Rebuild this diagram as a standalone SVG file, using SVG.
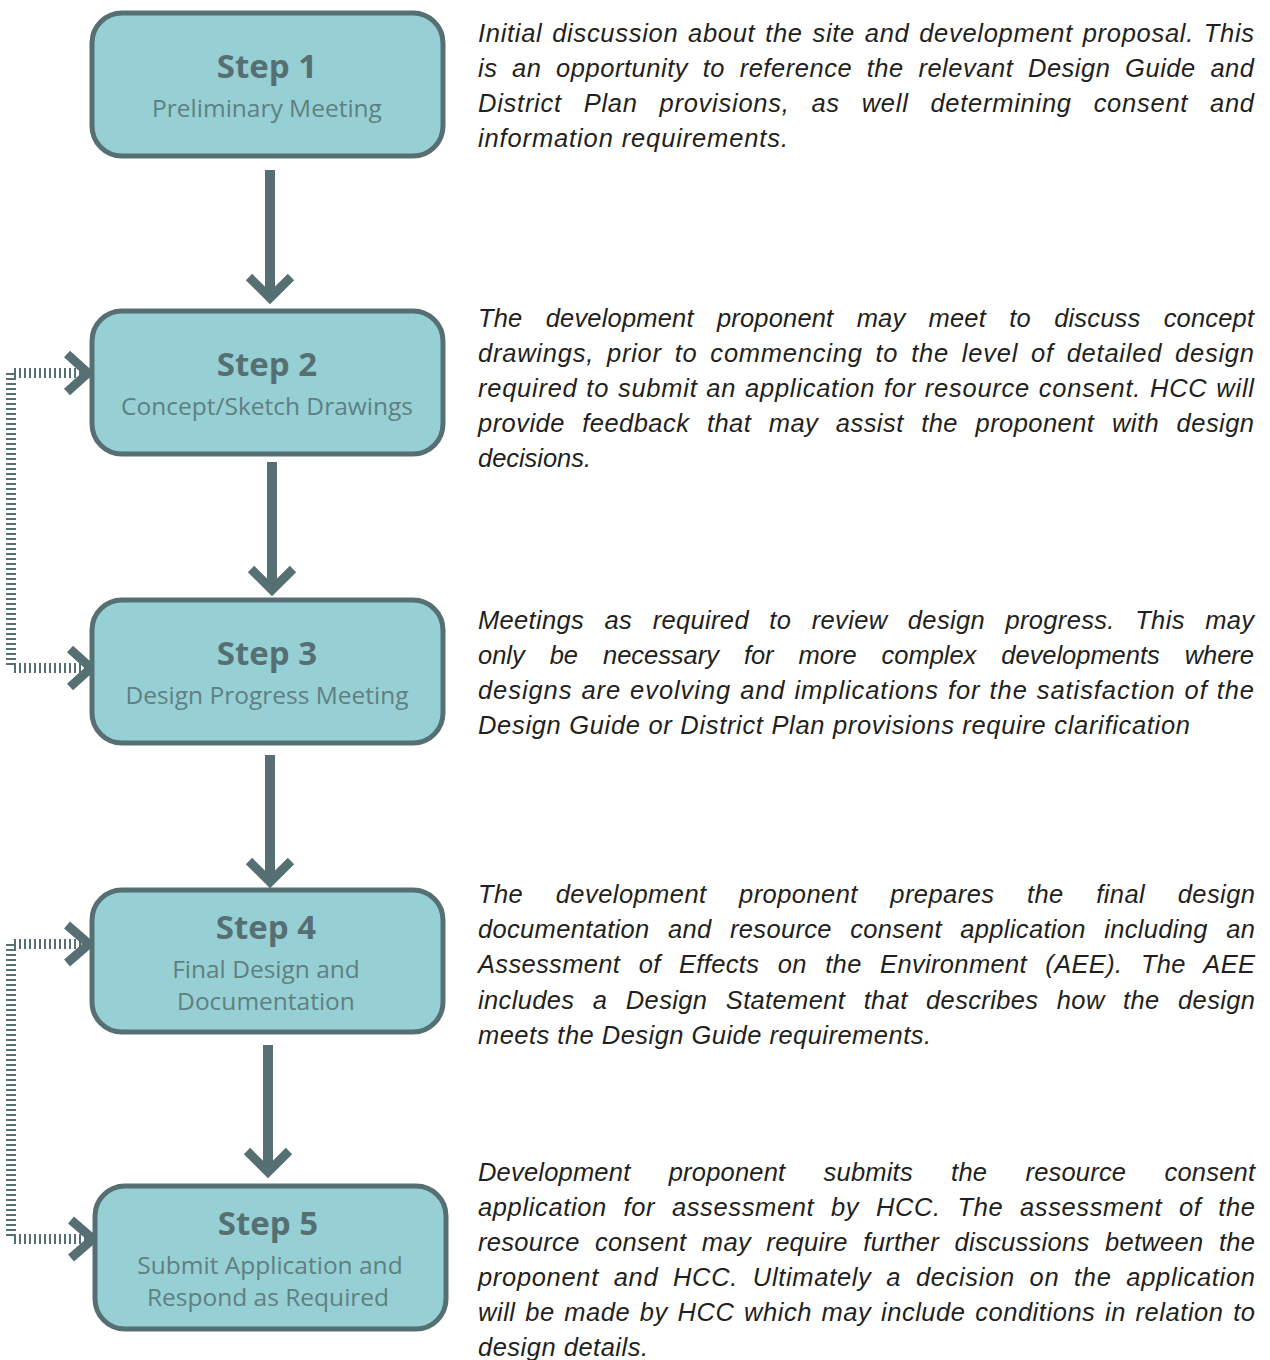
<svg xmlns="http://www.w3.org/2000/svg" width="1270" height="1360" viewBox="0 0 1270 1360">
<style>
.box{fill:#96d0d4;stroke:#566f72;stroke-width:5}
.title{font-family:"Open Sans","Noto Sans",sans-serif;font-weight:700;font-size:33px;fill:#566f72;text-anchor:middle}
.sub{font-family:"Open Sans","Noto Sans",sans-serif;font-size:24.5px;fill:#5f7f82;text-anchor:middle}
.desc{font-family:"Liberation Sans",Arial,sans-serif;font-style:italic;font-size:25.5px;fill:#231f20}
.shaft{stroke:#566f72;stroke-width:10;fill:none}
.head{stroke:#566f72;stroke-width:9;fill:none;stroke-linejoin:miter;stroke-linecap:butt}
.dot{stroke:#566f72;stroke-width:10;fill:none;stroke-dasharray:2 3}
</style>
<rect width="1270" height="1360" fill="#ffffff"/>
<g id="connectors">
  <line class="shaft" x1="270" y1="170" x2="270" y2="296"/>
  <polyline class="head" points="249,277 270,298 291,277"/>
  <line class="shaft" x1="272" y1="462" x2="272" y2="588"/>
  <polyline class="head" points="251,569 272,590 293,569"/>
  <line class="shaft" x1="270" y1="755" x2="270" y2="880"/>
  <polyline class="head" points="249,861 270,882 291,861"/>
  <line class="shaft" x1="268" y1="1045" x2="268" y2="1170"/>
  <polyline class="head" points="247,1151 268,1172 289,1151"/>
  <g id="loop1">
    <line class="dot" x1="11" y1="373" x2="11" y2="668"/>
    <line class="dot" x1="14" y1="373" x2="84" y2="373"/>
    <line class="dot" x1="14" y1="668" x2="86" y2="668"/>
    <polyline class="head" points="67,354 88,373 67,392"/>
    <polyline class="head" points="70,649 91,668 70,687"/>
  </g>
  <g id="loop2">
    <line class="dot" x1="11" y1="944" x2="11" y2="1239"/>
    <line class="dot" x1="14" y1="944" x2="86" y2="944"/>
    <line class="dot" x1="14" y1="1239" x2="89" y2="1239"/>
    <polyline class="head" points="67,925 89,944 67,963"/>
    <polyline class="head" points="71,1220 93,1239 71,1258"/>
  </g>
</g>
<g id="step1">
  <rect class="box" x="92" y="13" width="351" height="143" rx="30"/>
  <text class="title" x="267" y="78">Step 1</text>
  <text class="sub" x="267" y="117">Preliminary Meeting</text>
</g>
<g id="step2">
  <rect class="box" x="92" y="311" width="351" height="143" rx="30"/>
  <text class="title" x="267" y="376">Step 2</text>
  <text class="sub" x="267" y="415">Concept/Sketch Drawings</text>
</g>
<g id="step3">
  <rect class="box" x="92" y="600" width="351" height="143" rx="30"/>
  <text class="title" x="267" y="665">Step 3</text>
  <text class="sub" x="267" y="704">Design Progress Meeting</text>
</g>
<g id="step4">
  <rect class="box" x="92" y="890" width="351" height="142" rx="30"/>
  <text class="title" x="266" y="939">Step 4</text>
  <text class="sub" x="266" y="978">Final Design and</text>
  <text class="sub" x="266" y="1010">Documentation</text>
</g>
<g id="step5">
  <rect class="box" x="95" y="1186" width="351" height="143" rx="30"/>
  <text class="title" x="268" y="1235">Step 5</text>
  <text class="sub" x="270" y="1274">Submit Application and</text>
  <text class="sub" x="268" y="1306">Respond as Required</text>
</g>
<g id="desc1" class="desc">
  <text x="478" y="42" textLength="776" lengthAdjust="spacing" word-spacing="2">Initial discussion about the site and development proposal.  This</text>
  <text x="478" y="77" textLength="776" lengthAdjust="spacing" word-spacing="7">is an opportunity to reference the relevant Design Guide and</text>
  <text x="478" y="112" textLength="776" lengthAdjust="spacing" word-spacing="14">District  Plan  provisions, as well determining consent and</text>
  <text x="478" y="147" textLength="310" lengthAdjust="spacing">information requirements.</text>
</g>
<g id="desc2" class="desc">
  <text x="478" y="327" textLength="776" lengthAdjust="spacing" word-spacing="16">The development proponent may meet to discuss concept</text>
  <text x="478" y="362" textLength="776" lengthAdjust="spacing" word-spacing="5">drawings, prior to commencing to the level of detailed design</text>
  <text x="478" y="397" textLength="776" lengthAdjust="spacing" word-spacing="1">required to submit an application for resource consent.  HCC will</text>
  <text x="478" y="432" textLength="776" lengthAdjust="spacing" word-spacing="10">provide feedback that may assist the proponent with design</text>
  <text x="478" y="467" textLength="113" lengthAdjust="spacing">decisions.</text>
</g>
<g id="desc3" class="desc">
  <text x="478" y="629" textLength="776" lengthAdjust="spacing" word-spacing="13">Meetings as required to review design progress. This may</text>
  <text x="478" y="664" textLength="776" lengthAdjust="spacing" word-spacing="18">only  be  necessary for more complex developments where</text>
  <text x="478" y="699" textLength="776" lengthAdjust="spacing" word-spacing="1">designs are evolving and implications for the satisfaction of the</text>
  <text x="478" y="734" textLength="712" lengthAdjust="spacing">Design Guide or District Plan provisions require clarification</text>
</g>
<g id="desc4" class="desc">
  <text x="478" y="903" textLength="777" lengthAdjust="spacing" word-spacing="25">The development proponent prepares the final design</text>
  <text x="478" y="938" textLength="777" lengthAdjust="spacing" word-spacing="11">documentation and resource consent application including an</text>
  <text x="478" y="973" textLength="777" lengthAdjust="spacing" word-spacing="11">Assessment of Effects on the Environment (AEE).  The AEE</text>
  <text x="478" y="1009" textLength="777" lengthAdjust="spacing" word-spacing="11">includes a Design Statement that describes how the design</text>
  <text x="478" y="1044" textLength="453" lengthAdjust="spacing">meets the Design Guide requirements.</text>
</g>
<g id="desc5" class="desc">
  <text x="478" y="1181" textLength="777" lengthAdjust="spacing" word-spacing="31">Development proponent submits the resource consent</text>
  <text x="478" y="1216" textLength="777" lengthAdjust="spacing" word-spacing="9">application for assessment by HCC.  The assessment of the</text>
  <text x="478" y="1251" textLength="777" lengthAdjust="spacing" word-spacing="8">resource consent may require further discussions between the</text>
  <text x="478" y="1286" textLength="777" lengthAdjust="spacing" word-spacing="7">proponent and HCC. Ultimately a decision on the application</text>
  <text x="478" y="1321" textLength="777" lengthAdjust="spacing" word-spacing="2">will be made by HCC which may include conditions in relation to</text>
  <text x="478" y="1356" textLength="170" lengthAdjust="spacing">design details.</text>
</g>
</svg>
